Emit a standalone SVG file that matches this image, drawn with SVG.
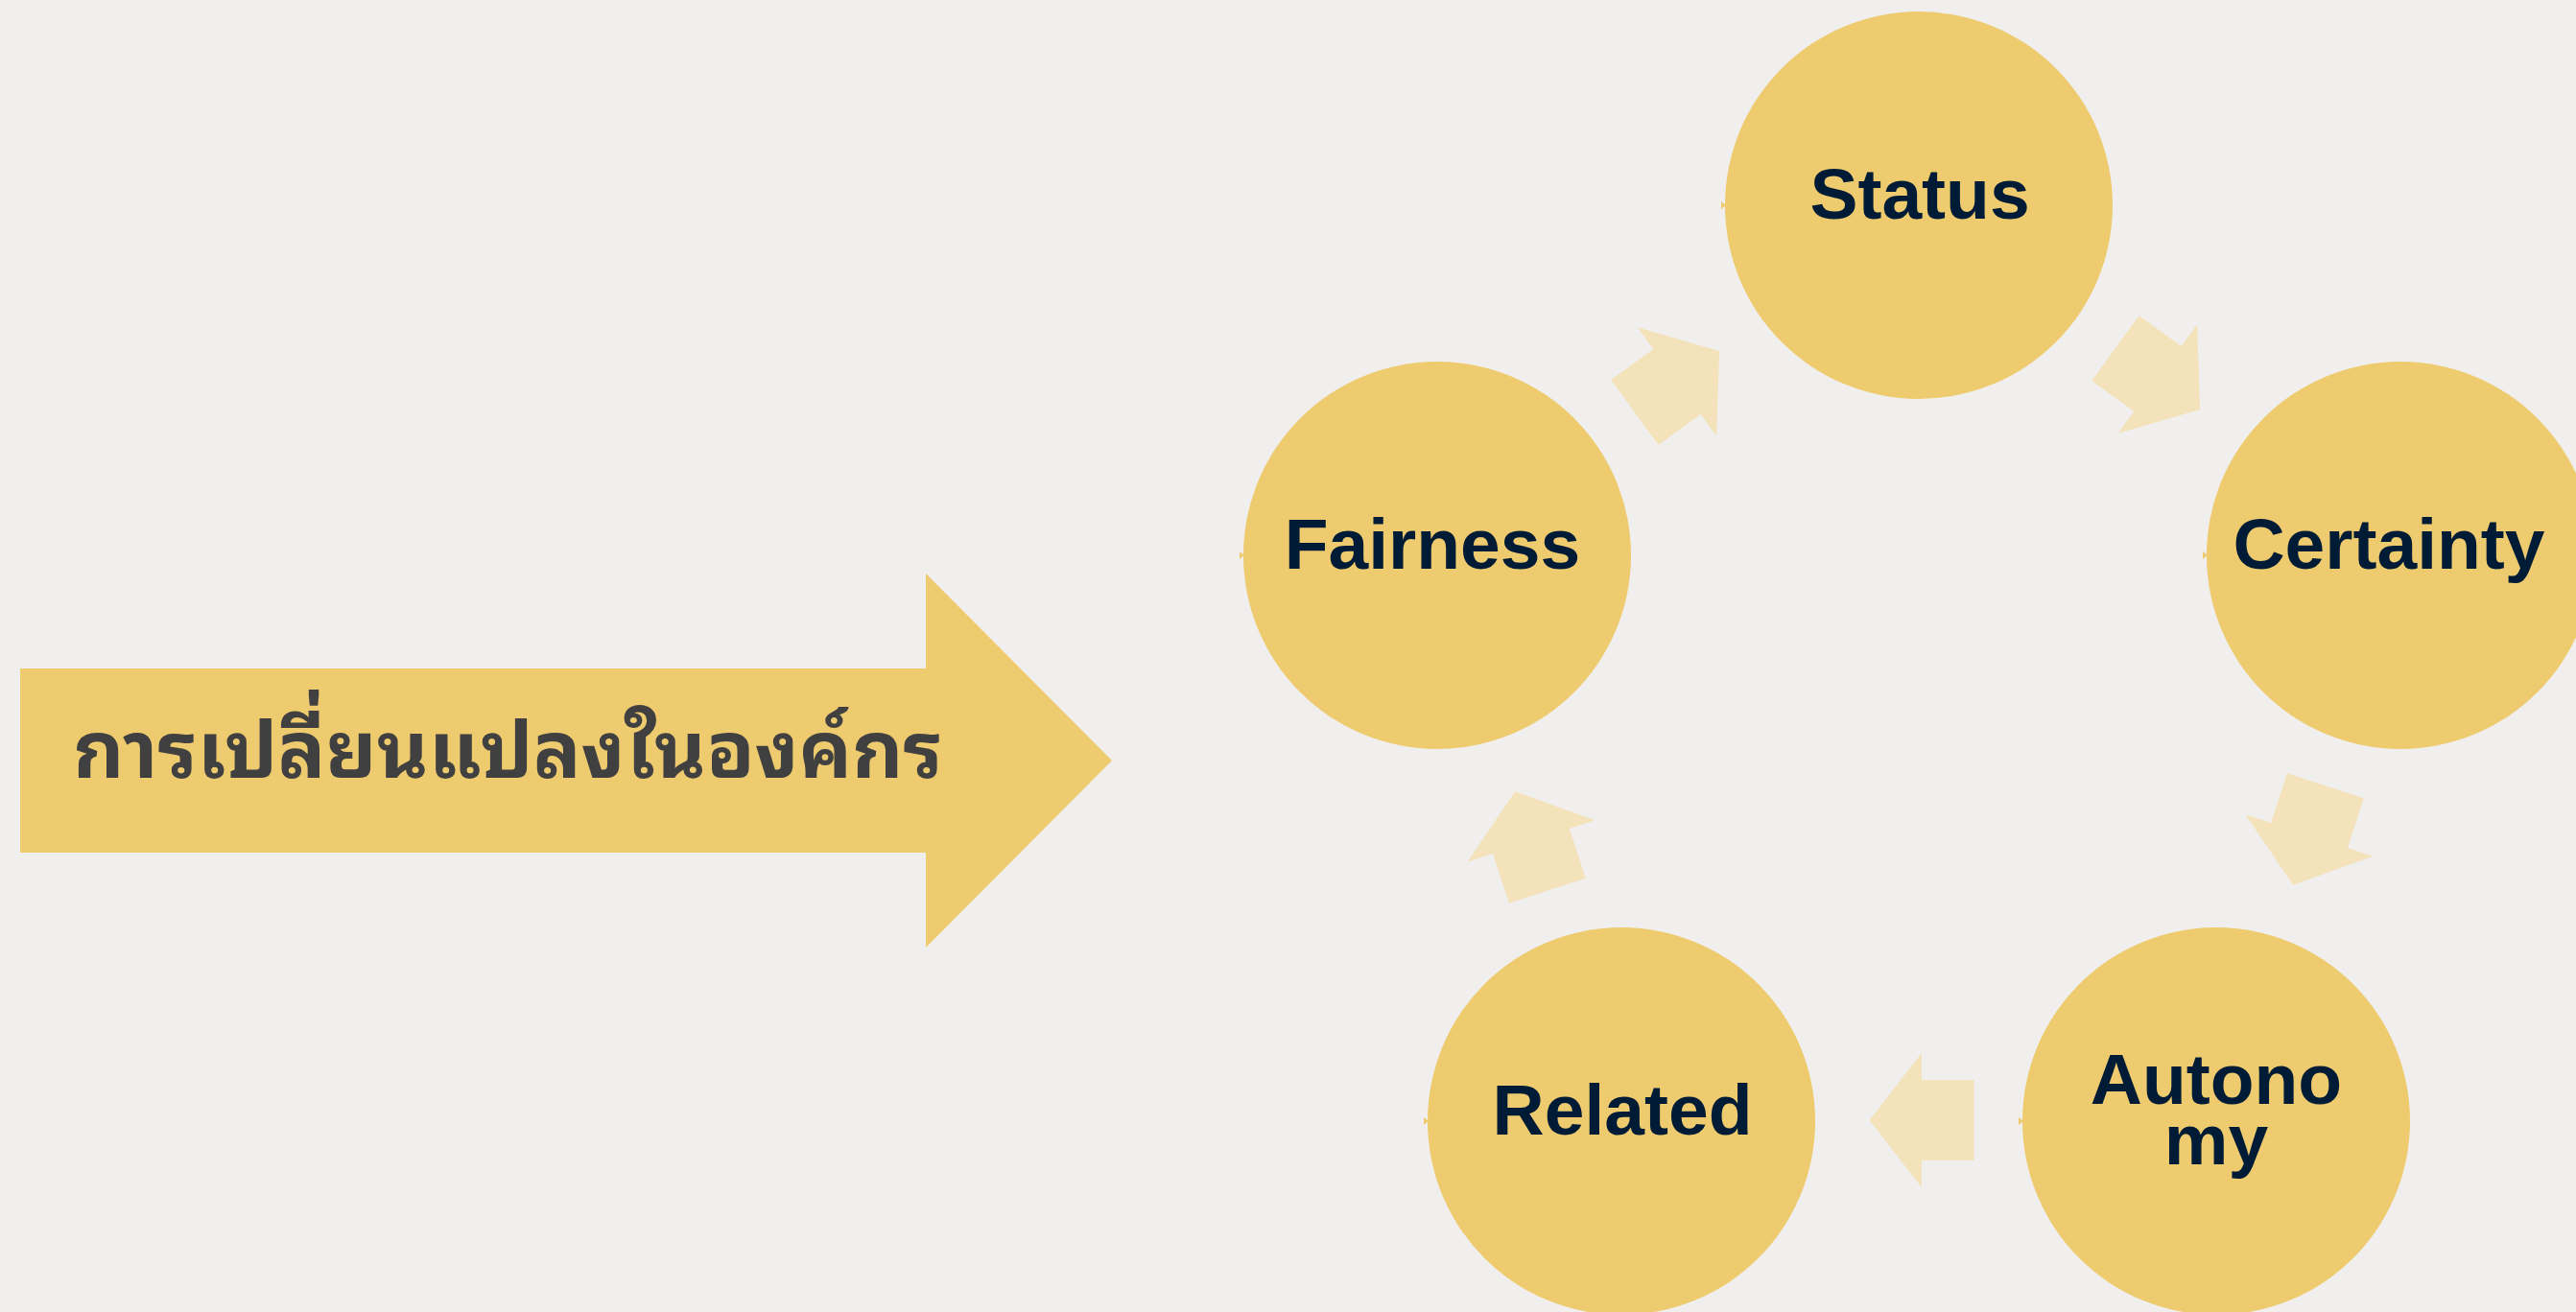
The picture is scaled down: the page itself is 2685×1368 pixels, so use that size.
<svg xmlns="http://www.w3.org/2000/svg" xmlns:xlink="http://www.w3.org/1999/xlink" width="2685" height="1368" viewBox="0 0 2685 1368">
<style>
.node{fill:#EECB6F}
.lbl{font-family:"Liberation Sans",Arial,sans-serif;font-weight:bold;font-size:75px;fill:#001B35;text-anchor:middle}
.thai{font-family:"Noto Sans Thai Looped","Loma","Tahoma","Leelawadee UI","Garuda","Noto Sans Thai","Noto Sans","DejaVu Sans",sans-serif;font-weight:bold;font-size:82.5px;fill:#404040}
.conn{fill:#F4E2BB}
.mark{fill:#EECB6F}
</style>
<defs>
<path id="cyc" d="M-54.5,-42 H0 V-70 L54.5,0 L0,70 V42 H-54.5 Z"/>
<path id="tick" d="M0,-4 L5,0 L0,4 Z"/>
</defs>
<rect width="2685" height="1368" fill="#F0EFED"/>
<g id="main-arrow">
<path class="node" d="M21,697 H965 V598 L1159,793 L965,988 V889 H21 Z"/>
<text class="thai" x="76" y="811">การเปลี่ยนแปลงในองค์กร</text>
</g>
<g id="connectors">
<use xlink:href="#cyc" class="conn" transform="translate(2249,395) rotate(36)"/>
<use xlink:href="#cyc" class="conn" transform="translate(2407,871) rotate(108)"/>
<use xlink:href="#cyc" class="conn" transform="translate(2003,1168) rotate(180)"/>
<use xlink:href="#cyc" class="conn" transform="translate(1596,877) rotate(252)"/>
<use xlink:href="#cyc" class="conn" transform="translate(1748,398) rotate(324)"/>
</g>
<g id="node-status">
<circle class="node" cx="2000" cy="214" r="202"/>
<text class="lbl" x="2001" y="228">Status</text>
</g>
<g id="node-certainty">
<circle class="node" cx="2502" cy="579" r="202"/>
<text class="lbl" x="2490" y="593">Certainty</text>
</g>
<g id="node-autonomy">
<circle class="node" cx="2310" cy="1169" r="202"/>
<text class="lbl" x="2310" y="1151">Autono</text>
<text class="lbl" x="2310" y="1214">my</text>
</g>
<g id="node-related">
<circle class="node" cx="1690" cy="1169" r="202"/>
<text class="lbl" x="1691" y="1183">Related</text>
</g>
<g id="node-fairness">
<circle class="node" cx="1498" cy="579" r="202"/>
<text class="lbl" x="1493" y="593">Fairness</text>
</g>
<g id="marks">
<use xlink:href="#tick" class="mark" x="1794" y="214"/>
<use xlink:href="#tick" class="mark" x="2296" y="579"/>
<use xlink:href="#tick" class="mark" x="2104" y="1169"/>
<use xlink:href="#tick" class="mark" x="1484" y="1169"/>
<use xlink:href="#tick" class="mark" x="1292" y="579"/>
</g>
</svg>
